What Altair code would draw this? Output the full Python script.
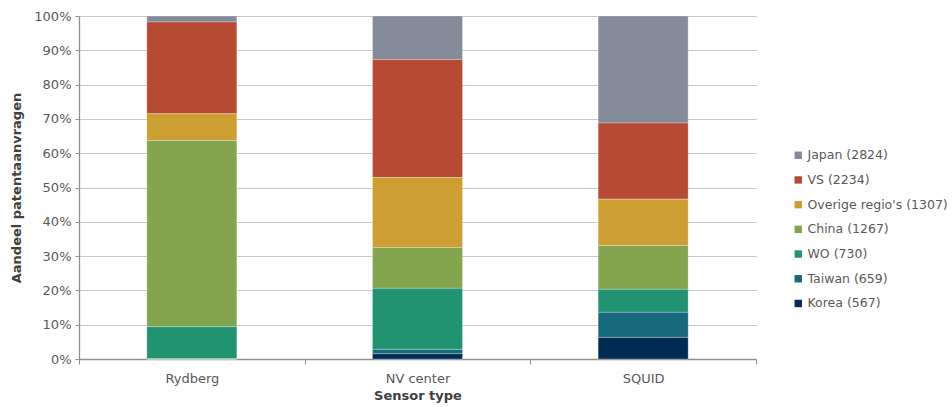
import altair as alt
import pandas as pd

# Share of patent applications (%) per sensor type and region
sensors = ["Rydberg", "NV center", "SQUID"]
regions = ["Japan (2824)", "VS (2234)", "Overige regio's (1307)", "China (1267)",
           "WO (730)", "Taiwan (659)", "Korea (567)"]
colors = ["#858b99", "#b64a33", "#cd9f33", "#84a44e", "#219371", "#176879", "#002c54"]

japan = [1.75, 12.7, 31.2]
vs = [26.75, 34.4, 22.2]
overige = [7.8, 20.4, 13.5]
china = [54.3, 11.9, 12.8]
wo = [9.4, 17.8, 6.7]
taiwan = [0.0, 1.25, 7.3]
korea = [0.0, 1.55, 6.3]

series = [japan, vs, overige, china, wo, taiwan, korea]
rows = []
for ri, (reg, vals) in enumerate(zip(regions, series)):
    for s, v in zip(sensors, vals):
        rows.append({"sensor": s, "region": reg, "share": v / 100.0,
                     "stack": len(regions) - ri})
df = pd.DataFrame(rows)

font = "DejaVu Sans"
grey_text = "#595959"

chart = alt.Chart(df).mark_bar(size=90, stroke="#ffffff", strokeWidth=0.6,
                               strokeOpacity=0.45).encode(
    x=alt.X("sensor:N", sort=sensors, title="Sensor type",
            scale=alt.Scale(paddingInner=0, paddingOuter=0),
            axis=alt.Axis(labelAngle=0, tickBand="extent", labelPadding=8,
                          titlePadding=4)),
    y=alt.Y("share:Q", stack="zero", title="Aandeel patentaanvragen",
            scale=alt.Scale(domain=[0, 1], nice=False),
            axis=alt.Axis(format=".0%", values=[i / 10 for i in range(11)],
                          grid=True, tickSize=4, labelPadding=4, titlePadding=10,
                          domain=True)),
    color=alt.Color("region:N", sort=regions,
                    scale=alt.Scale(domain=regions, range=colors),
                    legend=alt.Legend(title=None, orient="none", legendX=713, legendY=133,
                                      symbolType="square", symbolSize=55,
                                      symbolStrokeWidth=0, rowPadding=11.7,
                                      labelFontSize=12.5, labelColor=grey_text,
                                      labelFont=font, labelOffset=3)),
    order=alt.Order("stack:Q", sort="ascending"),
).properties(
    width=677, height=343,
    autosize="none",
    padding={"left": 79, "top": 16, "right": 196, "bottom": 48},
).configure_view(
    stroke=None
).configure_axis(
    labelFont=font, titleFont=font, labelColor=grey_text, titleColor="#404040",
    labelFontSize=13, titleFontSize=13, titleFontWeight="bold",
    domainColor="#8f8f8f", domainWidth=1.3, tickColor="#8f8f8f",
    gridColor="#909090", gridDash=[1, 1], gridWidth=1, gridOpacity=1
).configure_axisX(
    grid=False, tickSize=5
)

chart.save("out.html", embed_options={"renderer": "svg", "actions": False})
